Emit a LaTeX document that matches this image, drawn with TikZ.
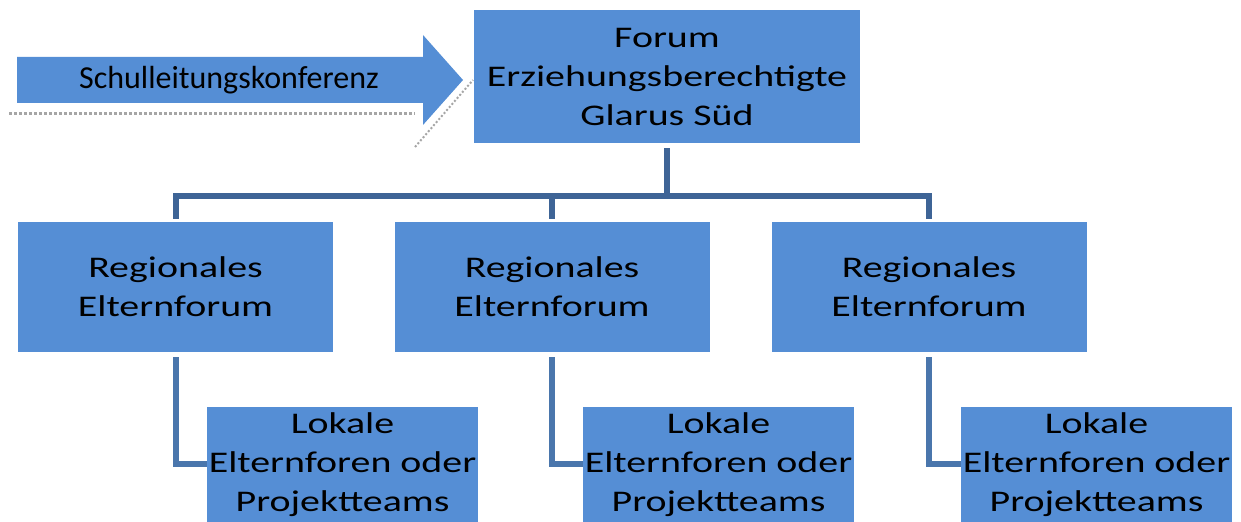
\documentclass[tikz,border=0pt]{standalone}
\usepackage{fontspec}
\newfontfamily\boxfont[FakeStretch=1.33]{Carlito}
\newfontfamily\arrowfont{Carlito}
\definecolor{boxblue}{RGB}{85,142,213}
\definecolor{linkdark}{RGB}{62,100,150}
\definecolor{linklight}{RGB}{74,118,172}
\begin{document}
\begin{tikzpicture}[x=0.5pt,y=-0.5pt,
  every node/.style={font={\boxfont\fontsize{15pt}{19.5pt}\selectfont},align=center,inner sep=0pt},
  orgbox/.style={fill=boxblue,minimum width=#1},
  uplink/.style={draw=linkdark,line width=3pt},
  lowlink/.style={draw=linklight,line width=3pt}]
  \useasboundingbox (0,0) rectangle (1241,522);
  % arrow with shadow leftovers
  \draw[gray!70,densely dotted,line width=1.5pt] (9,114) -- (415,114);
  \draw[gray!70,densely dotted,line width=1pt] (415,147) -- (473,80);
  \fill[boxblue] (17,57) -- (423,57) -- (423,35) -- (463,80) -- (423,125) -- (423,103) -- (17,103) -- cycle;
  \node[font={\arrowfont\fontsize{16pt}{19pt}\selectfont}] (slk) at (229,80) {Schulleitungskonferenz};
  % boxes
  \node[orgbox=193pt,minimum height=66.5pt] (forum) at (667,76.5) {Forum\\Erziehungsberechtigte\\Glarus Süd};
  \node[orgbox=157.5pt,minimum height=65pt] (reg1) at (175.5,287) {Regionales\\Elternforum};
  \node[orgbox=157.5pt,minimum height=65pt] (reg2) at (552,287) {Regionales\\Elternforum};
  \node[orgbox=157.5pt,minimum height=65pt] (reg3) at (929,287) {Regionales\\Elternforum};
  \node[orgbox=135.5pt,minimum height=57.5pt] (lok1) at (342.5,464.5) {Lokale\\Elternforen oder\\Projektteams};
  \node[orgbox=135.5pt,minimum height=57.5pt] (lok2) at (718.5,464.5) {Lokale\\Elternforen oder\\Projektteams};
  \node[orgbox=135.5pt,minimum height=57.5pt] (lok3) at (1096.5,464.5) {Lokale\\Elternforen oder\\Projektteams};
  % links
  \coordinate (bar) at (667,196);
  \draw[uplink,shorten <=2.5pt] (forum.south) -- (bar);
  \draw[uplink,shorten <=1.5pt,shorten >=1.5pt] (reg1.north) |- (bar) -| (reg3.north);
  \draw[uplink,shorten <=1.5pt] (reg2.north) -- (reg2.north |- bar);
  \foreach \i in {1,2,3}
    \draw[lowlink,shorten <=2.5pt] (reg\i.south) |- (lok\i.west);
\end{tikzpicture}
\end{document}
